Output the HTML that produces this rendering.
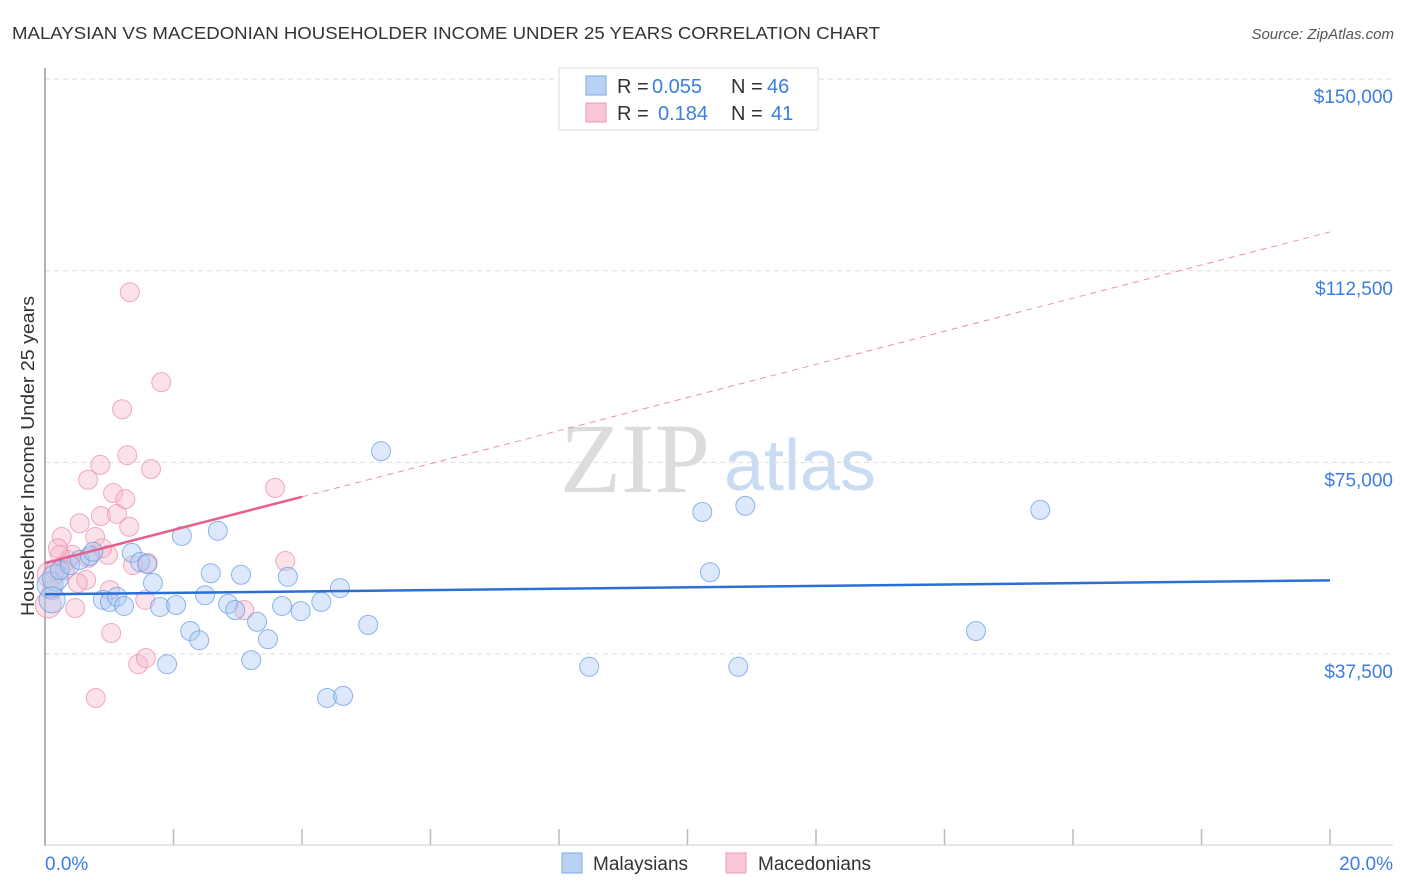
<!DOCTYPE html>
<html><head><meta charset="utf-8"><style>
body{margin:0;background:#fff;font-family:"Liberation Sans",sans-serif}
svg{display:block}
</style></head><body>
<svg width="1406" height="892" xmlns="http://www.w3.org/2000/svg">
<text x="12" y="39" font-size="17.5" fill="#333" textLength="868" lengthAdjust="spacingAndGlyphs">MALAYSIAN VS MACEDONIAN HOUSEHOLDER INCOME UNDER 25 YEARS CORRELATION CHART</text>
<text x="1394" y="39" font-size="15" fill="#555" font-style="italic" text-anchor="end">Source: ZipAtlas.com</text>
<g>
<text x="635" y="492" font-size="100" fill="#dcdcdc" font-family="Liberation Serif,serif" text-anchor="middle">ZIP</text>
<text x="800" y="490" font-size="72" fill="#c9dcf2" text-anchor="middle">atlas</text>
</g>
<g id="grid"></g>
<g id="axes"></g>
<g id="marks"></g>
<text transform="translate(34,456) rotate(-90)" font-size="18" fill="#333" text-anchor="middle" textLength="320" lengthAdjust="spacingAndGlyphs">Householder Income Under 25 years</text>
<g>
<rect x="559" y="68" width="259" height="62" fill="#fff" stroke="#ddd"/>
<rect x="586" y="76" width="20" height="19" fill="#b8d2f4" stroke="#7aa8e6"/>
<rect x="586" y="103" width="20" height="19" fill="#f9c6d6" stroke="#ec9ab4"/>
<text x="617" y="93" font-size="20" fill="#333">R =</text>
<text x="652" y="93" font-size="20" fill="#3d7de0">0.055</text>
<text x="731" y="93" font-size="20" fill="#333">N =</text>
<text x="767" y="93" font-size="20" fill="#3d7de0">46</text>
<text x="617" y="120" font-size="20" fill="#333">R =</text>
<text x="658" y="120" font-size="20" fill="#3d7de0">0.184</text>
<text x="731" y="120" font-size="20" fill="#333">N =</text>
<text x="771" y="120" font-size="20" fill="#3d7de0">41</text>
</g>
<g>
<rect x="562" y="853" width="20" height="20" fill="#b8d2f4" stroke="#7aa8e6"/>
<text x="593" y="870" font-size="19" fill="#333">Malaysians</text>
<rect x="726" y="853" width="20" height="20" fill="#f9c6d6" stroke="#ec9ab4"/>
<text x="758" y="870" font-size="19" fill="#333">Macedonians</text>
</g>
</svg>
<script>
const yTicks=[37500,75000,112500,150000];
const yTickLabels=["$37,500","$75,000","$112,500","$150,000"];
const xTickLabels=["0.0%","20.0%"];
const blueX=[0.08,0.16,0.11,0.23,0.39,0.54,0.70,0.75,0.90,1.01,1.12,1.23,1.35,1.48,1.59,1.68,1.79,1.90,2.04,2.13,2.26,2.40,2.49,2.58,2.69,2.85,2.96,3.05,3.21,3.30,3.47,3.69,3.78,3.98,4.30,4.39,4.59,4.64,5.03,5.23,8.47,10.23,10.35,10.79,10.90,14.49,15.49];
const blueY=[51.0,52.4,48.1,53.9,54.9,55.9,56.7,57.5,48.1,47.7,48.7,46.9,57.3,55.5,55.1,51.4,46.7,35.5,47.1,60.6,42.0,40.2,49.0,53.3,61.6,47.3,46.1,53.0,36.3,43.8,40.4,46.9,52.6,45.9,47.7,28.9,50.4,29.3,43.2,77.2,35.0,65.3,53.5,35.0,66.5,42.0,65.7];
const pinkX=[0.05,0.08,0.16,0.26,0.36,0.42,0.47,0.54,0.64,0.67,0.78,0.79,0.86,0.87,0.98,1.03,1.06,1.12,1.20,1.25,1.28,1.31,1.32,1.37,1.45,1.57,1.60,1.65,1.81,3.10,3.58,3.74,0.67,1.01,0.51,0.23,0.31,0.89,1.56,0.11,0.20];
const pinkY=[47.1,53.0,53.9,60.4,55.9,56.9,46.5,63.1,52.0,71.6,60.4,28.9,74.5,64.5,56.9,41.6,69.0,64.9,85.4,67.8,76.4,62.4,108.3,54.9,35.5,36.7,55.3,73.7,90.7,46.1,70.0,55.7,56.3,50.0,51.4,56.9,53.9,58.2,48.1,50.0,58.2];
const blueTrend=[49.2,51.9];
const pinkTrend=[55.3,120.1];
const pinkSolidEnd=4;
const NS="http://www.w3.org/2000/svg";
const X=v=>45+v*64.25;
const Y=k=>654-(k-37.5)/0.1957;
function mk(tag,attrs,parent){const e=document.createElementNS(NS,tag);for(const a in attrs)e.setAttribute(a,attrs[a]);document.getElementById(parent).appendChild(e);return e;}
yTicks.forEach((t,i)=>{const y=Y(t/1000);
const g=mk('line',{x1:45,x2:1393,y1:y,y2:y,stroke:'#ddd','stroke-dasharray':'5,4'},'grid');


const l=mk('text',{x:1393,y:y+24,'font-size':19,fill:'#3d7de0','text-anchor':'end'},'axes');l.textContent=yTickLabels[i];

});
const ya=mk('line',{x1:45,x2:45,y1:68,y2:846,stroke:'#999','stroke-width':1.5},'axes');


const xa=mk('line',{x1:45,x2:1393,y1:845,y2:845,stroke:'#ccc'},'axes');


for(let i=1;i<=10;i++){const t=mk('line',{x1:X(i*2),x2:X(i*2),y1:829,y2:845,stroke:'#bbb','stroke-width':1.5},'axes');

}
const x0=mk('text',{x:45,y:870,'font-size':19,fill:'#3d7de0'},'axes');x0.textContent=xTickLabels[0];


const x1=mk('text',{x:1393,y:870,'font-size':19,fill:'#3d7de0','text-anchor':'end'},'axes');x1.textContent=xTickLabels[1];


function dot(x,y,fill,stroke,name,r){const c=mk('circle',{cx:X(x),cy:Y(y),r:r,fill:fill,'fill-opacity':0.4,stroke:stroke,'stroke-opacity':0.7,'stroke-width':1},'marks');

}
pinkX.forEach((x,i)=>dot(x,pinkY[i],'#f6b6ca','#e98aa8','macedonian-point',i<2?13:9.5));
blueX.forEach((x,i)=>dot(x,blueY[i],'#a9c9f2','#5f98e3','malaysian-point',i<3?13:9.5));
const pd=mk('line',{x1:X(pinkSolidEnd),y1:Y(pinkTrend[0]+(pinkTrend[1]-pinkTrend[0])*pinkSolidEnd/20),x2:X(20),y2:Y(pinkTrend[1]),stroke:'#e8608a','stroke-width':1,'stroke-dasharray':'6,5',opacity:0.7},'marks');


const ps=mk('line',{x1:X(0),y1:Y(pinkTrend[0]),x2:X(pinkSolidEnd),y2:Y(pinkTrend[0]+(pinkTrend[1]-pinkTrend[0])*pinkSolidEnd/20),stroke:'#e8608a','stroke-width':2.5},'marks');


const bt=mk('line',{x1:X(0),y1:Y(blueTrend[0]),x2:X(20),y2:Y(blueTrend[1]),stroke:'#2a6fd6','stroke-width':2.5},'marks');


</script>
</body></html>
